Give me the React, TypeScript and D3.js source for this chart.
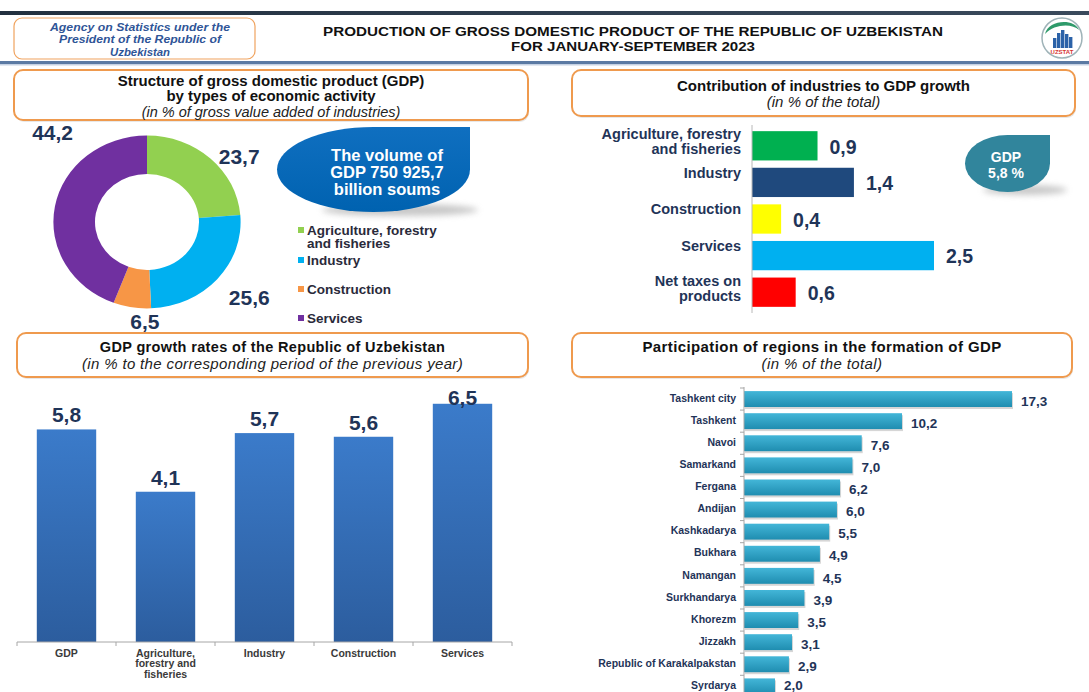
import * as d3 from "d3";
import * as React from "react";

// ---- data ----
const structureCats = ["Agriculture, forestry and fisheries", "Industry", "Construction", "Services"];
const structureLegend = [["Agriculture, forestry", "and fisheries"], ["Industry"], ["Construction"], ["Services"]];
const structureValues = [23.7, 25.6, 6.5, 44.2];

const contribCats = ["Agriculture, forestry and fisheries", "Industry", "Construction", "Services", "Net taxes on products"];
const contribLabels = [["Agriculture, forestry", "and fisheries"], ["Industry"], ["Construction"], ["Services"], ["Net taxes on", "products"]];
const contribValues = [0.9, 1.4, 0.4, 2.5, 0.6];

const growthCats = ["GDP", "Agriculture, forestry and fisheries", "Industry", "Construction", "Services"];
const growthLabels = [["GDP"], ["Agriculture,", "forestry and", "fisheries"], ["Industry"], ["Construction"], ["Services"]];
const growthValues = [5.8, 4.1, 5.7, 5.6, 6.5];

const regions = [
  "Tashkent city", "Tashkent", "Navoi", "Samarkand", "Fergana", "Andijan", "Kashkadarya",
  "Bukhara", "Namangan", "Surkhandarya", "Khorezm", "Jizzakh", "Republic of Karakalpakstan", "Syrdarya",
];
const regionValues = [17.3, 10.2, 7.6, 7.0, 6.2, 6.0, 5.5, 4.9, 4.5, 3.9, 3.5, 3.1, 2.9, 2.0];

// ---- styles ----
const W = 1089;
const H = 692;
const F = "'Liberation Sans', Arial, Helvetica, sans-serif";
const NAVY = "#1f3458";
const ORANGE = "#ef9a4e";
const structureColors = ["#92d050", "#00b0f0", "#f79646", "#7030a0"];
const contribColors = ["#00b050", "#1f497d", "#ffff00", "#00b0f0", "#ff0000"];

const fmt = (v: number) => d3.format(".1f")(v).replace(".", ",");

// rounded "leaf" shape: ellipse with a square top-right corner
function leaf(l: number, t: number, r: number, b: number) {
  const cx = (l + r) / 2;
  const cy = (t + b) / 2;
  const rx = (r - l) / 2;
  const ry = (b - t) / 2;
  return `M${r},${t} L${r},${cy} A${rx},${ry} 0 0 1 ${cx},${b} A${rx},${ry} 0 0 1 ${l},${cy} A${rx},${ry} 0 0 1 ${cx},${t} Z`;
}

function TitleBox(props: {
  x: number; y: number; w: number; h: number; lines: string[]; sub: string;
  size: number; subSize: number; lh: number; spacing?: number; shift?: number;
}) {
  const { x, y, w, h, lines, sub, size, subSize, lh } = props;
  const ls = props.spacing || 0;
  const total = lines.length + 1;
  const y0 = y + h / 2 - ((total - 1) * lh) / 2 + (props.shift || 0);
  return (
    <g>
      <rect x={x + 1} y={y + 2} width={w} height={h} rx={9} fill="#d9d9d9" opacity={0.6} />
      <rect x={x} y={y} width={w} height={h} rx={9} fill="#fff" stroke={ORANGE} strokeWidth={2} />
      {lines.map((t, i) => (
        <text key={i} x={x + w / 2} y={y0 + i * lh} dy="0.35em" textAnchor="middle" fontFamily={F}
          fontWeight="bold" fontSize={size} letterSpacing={ls} fill="#111">{t}</text>
      ))}
      <text x={x + w / 2} y={y0 + lines.length * lh + 1} dy="0.35em" textAnchor="middle" fontFamily={F}
        fontStyle="italic" fontSize={subSize} letterSpacing={ls} fill="#222">{sub}</text>
    </g>
  );
}

function Donut() {
  const cx = 147;
  const cy = 222;
  const pie = d3.pie<number>().sort(null).value((d) => d);
  const arcs = pie(structureValues);
  const arc = d3.arc<d3.PieArcDatum<number>>().innerRadius(50).outerRadius(90);
  // label placement (angle offset in degrees, radius) to follow the original layout
  const labelShift = [12, -5, -8, 33];
  const labelR = [113, 127, 100, 130];
  return (
    <g>
      <g transform={`translate(${cx},${cy}) scale(1.04,0.96)`}>
        {arcs.map((a, i) => (
          <path key={i} d={arc(a) || ""} fill={structureColors[i]} />
        ))}
      </g>
      {arcs.map((a, i) => {
        const ang = (a.startAngle + a.endAngle) / 2 + (labelShift[i] * Math.PI) / 180;
        const x = cx + Math.sin(ang) * labelR[i];
        const y = cy - Math.cos(ang) * labelR[i];
        return (
          <text key={i} x={x} y={y} dy="0.35em" textAnchor="middle" fontFamily={F} fontWeight="bold"
            fontSize={21} fill={NAVY}>{fmt(structureValues[i])}</text>
        );
      })}
      {/* bubble */}
      <ellipse cx={400} cy={210} rx={78} ry={6} fill="#9a9a9a" opacity={0.55} filter="url(#blur)" />
      <path d={leaf(277, 127, 470, 212)} fill="url(#blueBubble)" />
      {["The volume of", "GDP 750 925,7", "billion soums"].map((t, i) => (
        <text key={t} x={387} y={155 + i * 17} dy="0.35em" textAnchor="middle" fontFamily={F}
          fontWeight="bold" fontSize={16.5} fill="#fff">{t}</text>
      ))}
      {/* legend */}
      {structureCats.map((c, i) => {
        const ly = [230, 260, 289, 318][i];
        return (
          <g key={c}>
            <rect x={298} y={ly - 3} width={6} height={6} fill={structureColors[i]} />
            {structureLegend[i].map((t, j) => (
              <text key={j} x={307} y={ly + j * 13} dy="0.35em" fontFamily={F} fontWeight="bold"
                fontSize={13.5} fill="#2a2a3a">{t}</text>
            ))}
          </g>
        );
      })}
    </g>
  );
}

function Contribution() {
  const y = d3.scaleBand<string>().domain(contribCats).range([127.5, 310.5]).paddingInner(0.2).paddingOuter(0.1);
  const x = d3.scaleLinear().domain([0, 2.5]).range([752, 934]);
  return (
    <g>
      {contribCats.map((c, i) => {
        const by = y(c)!;
        const bh = y.bandwidth();
        const lines = contribLabels[i];
        return (
          <g key={c}>
            <rect x={x(0)} y={by} width={x(contribValues[i]) - x(0)} height={bh} fill={contribColors[i]} />
            <text x={x(contribValues[i]) + 12} y={by + bh / 2 + 1} dy="0.35em" fontFamily={F} fontWeight="bold"
              fontSize={19.5} fill={NAVY}>{fmt(contribValues[i])}</text>
            {lines.map((t, j) => (
              <text key={j} x={741} y={by + (lines.length > 1 ? 3 : 5) + j * 15} dy="0.35em" textAnchor="end"
                fontFamily={F} fontWeight="bold" fontSize={14.5} fill={NAVY}>{t}</text>
            ))}
          </g>
        );
      })}
      <line x1={752} x2={752} y1={125} y2={313} stroke="#b8b8b8" strokeWidth={1} />
      {/* GDP bubble */}
      <ellipse cx={1025} cy={190} rx={42} ry={5} fill="#9a9a9a" opacity={0.55} filter="url(#blur)" />
      <path d={leaf(965, 135, 1050, 192)} fill="#31859c" />
      <text x={1006} y={157} dy="0.35em" textAnchor="middle" fontFamily={F} fontWeight="bold" fontSize={14} fill="#fff">GDP</text>
      <text x={1006} y={173} dy="0.35em" textAnchor="middle" fontFamily={F} fontWeight="bold" fontSize={14} fill="#fff">5,8 %</text>
    </g>
  );
}

function Growth() {
  const x = d3.scaleBand<string>().domain(growthCats).range([17, 512]).paddingInner(0.4).paddingOuter(0.2);
  const y = d3.scaleLinear().domain([0, 7]).range([642, 385.45]);
  const step = x.step();
  return (
    <g>
      {growthCats.map((c, i) => {
        const bx = x(c)!;
        const top = y(growthValues[i]);
        return (
          <g key={c}>
            <rect x={bx} y={top} width={x.bandwidth()} height={y(0) - top} fill="url(#growthBar)" />
            <text x={bx + x.bandwidth() / 2} y={Math.max(top - 7, 405)} textAnchor="middle" fontFamily={F}
              fontWeight="bold" fontSize={21} fill={NAVY}>{fmt(growthValues[i])}</text>
            {growthLabels[i].map((t, j) => (
              <text key={j} x={bx + x.bandwidth() / 2} y={653 + j * 10.5} dy="0.35em" textAnchor="middle"
                fontFamily={F} fontWeight="bold" fontSize={10.5} fill="#3a3a3a">{t}</text>
            ))}
          </g>
        );
      })}
      <line x1={17} x2={512} y1={642} y2={642} stroke="#a6a6a6" />
      {d3.range(growthCats.length + 1).map((i) => (
        <line key={i} x1={17 + i * step} x2={17 + i * step} y1={642} y2={646} stroke="#a6a6a6" />
      ))}
    </g>
  );
}

function Regions() {
  const y = d3.scaleBand<string>().domain(regions).range([388, 697.4]).paddingInner(0.28).paddingOuter(0.14);
  const x = d3.scaleLinear().domain([0, 17.3]).range([744, 1012]);
  const step = y.step();
  return (
    <g>
      {regions.map((r, i) => {
        const by = y(r)!;
        const bh = y.bandwidth();
        return (
          <g key={r}>
            <rect x={x(0) + 1} y={by + 2} width={x(regionValues[i]) - x(0)} height={bh} fill="#8a8a8a" opacity={0.35} />
            <rect x={x(0)} y={by} width={x(regionValues[i]) - x(0)} height={bh} fill="url(#regionBar)" />
            <text x={x(regionValues[i]) + 9} y={Math.min(by + bh / 2 + 2, 685)} dy="0.35em" fontFamily={F} fontWeight="bold"
              fontSize={13.5} fill={NAVY}>{fmt(regionValues[i])}</text>
            <text x={736} y={by + bh / 2 - 1} dy="0.35em" textAnchor="end" fontFamily={F} fontWeight="bold"
              fontSize={10.5} fill={NAVY}>{r}</text>
          </g>
        );
      })}
      <line x1={744} x2={744} y1={387} y2={H} stroke="#a6a6a6" />
      {d3.range(regions.length + 1).map((i) => (
        <line key={i} x1={740} x2={744} y1={388 + i * step} y2={388 + i * step} stroke="#a6a6a6" />
      ))}
    </g>
  );
}

function Header() {
  return (
    <g>
      <rect x={0} y={11} width={W} height={4} fill="url(#topBand)" />
      <rect x={0} y={61} width={W} height={3} fill="#5b7aa3" />
      <rect x={0} y={64} width={W} height={1.5} fill="#c6d2e3" />
      <rect x={14} y={18} width={241} height={41} rx={8} fill="#fff" stroke={ORANGE} strokeWidth={1.2} opacity={0.9} />
      {["Agency on Statistics under the", "President of the Republic of", "Uzbekistan"].map((t, i) => (
        <text key={t} x={140} y={27 + i * 12.5} dy="0.35em" textAnchor="middle" fontFamily={F} fontStyle="italic"
          fontWeight="bold" fontSize={11} textLength={[180, 162, 60][i]} lengthAdjust="spacingAndGlyphs"
          fill="#2f5597">{t}</text>
      ))}
      <text x={633} y={31} dy="0.35em" textAnchor="middle" fontFamily={F} fontWeight="bold" fontSize={13.5}
        textLength={620} lengthAdjust="spacingAndGlyphs" fill="#111">
        PRODUCTION OF GROSS DOMESTIC PRODUCT OF THE REPUBLIC OF UZBEKISTAN
      </text>
      <text x={633} y={46.5} dy="0.35em" textAnchor="middle" fontFamily={F} fontWeight="bold" fontSize={13.5}
        textLength={244} lengthAdjust="spacingAndGlyphs" fill="#111">
        FOR JANUARY-SEPTEMBER 2023
      </text>
      {/* logo */}
      <g transform="translate(1062,38)">
        <circle r={20} fill="#fff" stroke="#9fb3b8" strokeWidth={1.5} />
        <path d="M-17,-4 C-14,-18 12,-20 17,-8 C10,-15 -8,-14 -17,-4 Z" fill="#2e9a6a" />
        {[-9, -5, -1, 3, 7].map((bx, i) => (
          <rect key={i} x={bx} y={-8 + [8, 3, 0, 4, 7][i]} width={3.4} height={18 - [8, 3, 0, 4, 7][i]} fill="#2b62a8" />
        ))}
        <text x={0} y={16} textAnchor="middle" fontFamily={F} fontWeight="bold" fontSize={6} fill="#d6332f">UZSTAT</text>
      </g>
    </g>
  );
}

export default function App() {
  return (
    <svg width={W} height={H} viewBox={`0 0 ${W} ${H}`} style={{ position: "absolute", left: 0, top: 0, background: "#fff" }}>
      <defs>
        <linearGradient id="topBand" x1="0" x2="1" y1="0" y2="0">
          <stop offset="0" stopColor="#22303f" />
          <stop offset="1" stopColor="#3a4a5c" />
        </linearGradient>
        <linearGradient id="blueBubble" x1="0" x2="0" y1="0" y2="1">
          <stop offset="0" stopColor="#0f6fc0" />
          <stop offset="1" stopColor="#0062b0" />
        </linearGradient>
        <linearGradient id="growthBar" x1="0" x2="0" y1="0" y2="1">
          <stop offset="0" stopColor="#3b7bca" />
          <stop offset="1" stopColor="#2c5d9e" />
        </linearGradient>
        <linearGradient id="regionBar" x1="0" x2="0" y1="0" y2="1">
          <stop offset="0" stopColor="#43b6d8" />
          <stop offset="1" stopColor="#1f8db0" />
        </linearGradient>
        <filter id="blur" x="-50%" y="-200%" width="200%" height="500%">
          <feGaussianBlur stdDeviation="3" />
        </filter>
      </defs>
      <rect width={W} height={H} fill="#fff" />
      <Header />
      <TitleBox x={14} y={70} w={514} h={50} lines={["Structure of gross domestic product (GDP)", "by types of economic activity"]}
        sub="(in % of gross value added of industries)" size={15} subSize={14.5} lh={15} shift={1} />
      <TitleBox x={572} y={70} w={503} h={46} lines={["Contribution of industries to GDP growth"]} sub="(in % of the total)"
        size={15} subSize={15} lh={15} />
      <TitleBox x={17} y={333} w={511} h={44} lines={["GDP growth rates of the Republic of Uzbekistan"]}
        sub="(in % to the corresponding period of the previous year)" size={14.5} subSize={15} lh={16} spacing={0.35} />
      <TitleBox x={572} y={333} w={500} h={44} lines={["Participation of regions in the formation of GDP"]}
        sub="(in % of the total)" size={15} subSize={15} lh={16} spacing={0.4} />
      <Donut />
      <Contribution />
      <Growth />
      <Regions />
    </svg>
  );
}
